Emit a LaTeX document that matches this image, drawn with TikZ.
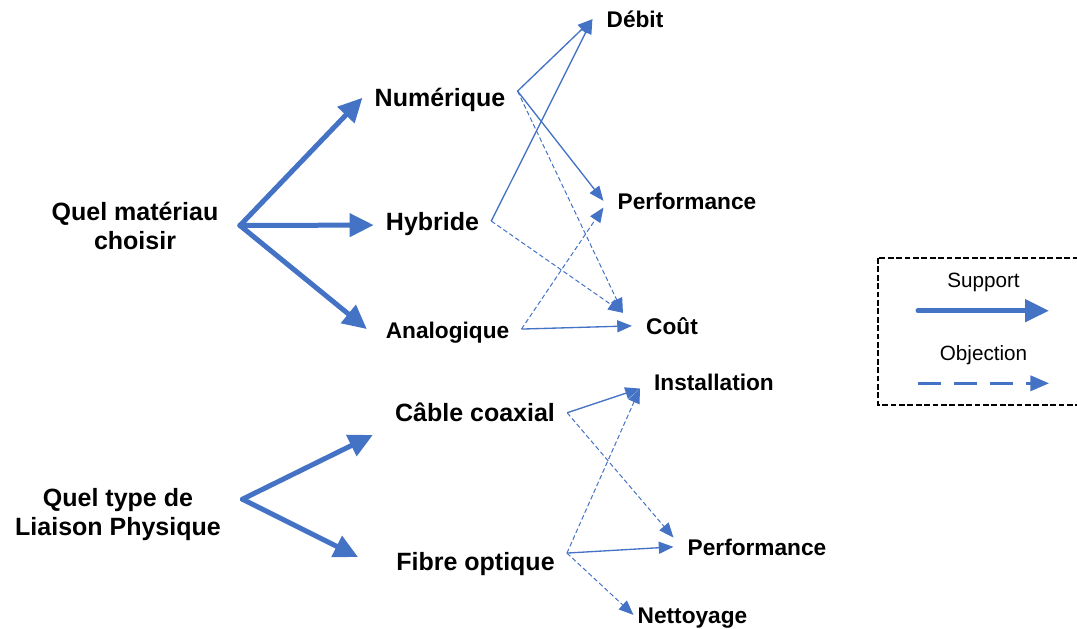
\documentclass[tikz,border=0pt]{standalone}
\usepackage{fontspec}
\setmainfont{Liberation Sans}
\usetikzlibrary{arrows.meta}
\definecolor{ArgBlue}{RGB}{68,114,196}
\tikzset{
  question/.style={font=\bfseries\fontsize{18.75}{21.75}\selectfont, align=center,
    inner xsep=16pt, inner ysep=0pt},
  choix/.style={font=\bfseries\fontsize{18.75}{22}\selectfont, anchor=base,
    inner xsep=9pt, inner ysep=0pt, text height=13.4pt, text depth=0pt},
  critere/.style={font=\bfseries\fontsize{17}{20}\selectfont, anchor=base,
    inner xsep=10.5pt, inner ysep=0pt, text height=12.2pt, text depth=0pt},
  legtxt/.style={font=\fontsize{15.5}{18}\selectfont, anchor=base, inner sep=0pt},
  legbox/.style={draw=black, line width=2.2pt, dash pattern=on 4.3pt off 2pt},
  support/.style={-{Triangle[length=18pt,width=17pt]}, line width=3.75pt, ArgBlue, line cap=round},
  pour/.style={-{Triangle[length=11pt,width=9pt]}, line width=1pt, ArgBlue},
  contre/.style={-{Triangle[length=11pt,width=9pt]}, line width=0.75pt, ArgBlue, dash pattern=on 3.5pt off 2pt},
  legsupport/.style={-{Triangle[length=18pt,width=16.5pt]}, line width=3.75pt, ArgBlue, line cap=round},
  legcontre/.style={-{Triangle[length=14pt,width=11.5pt]}, line width=2pt, ArgBlue, dash pattern=on 17pt off 10pt},
}

\begin{document}
\begin{tikzpicture}[x=0.75pt, y=-0.75pt]
  \clip (0,0) rectangle (1077,628);
  % first question: the material
  \node[question] (mat) at (135,225.5) {Quel matériau\\choisir};
  \node[choix] (num) at (440,106.7) {Numérique};
  \node[choix] (hyb) at (432.5,230) {Hybride};
  \node[choix, font=\bfseries\fontsize{17}{20}\selectfont] (ana) at (447.5,338) {Analogique};
  \node[critere] (deb) at (635,27.3) {Débit};
  \node[critere] (perf) at (687,209) {Performance};
  \node[critere] (cout) at (672,334) {Coût};
  \draw[support] (mat.east) -- (num.west);
  \draw[support] (mat.east) -- ([yshift=-3pt]hyb.west);
  \draw[support] (mat.east) -- ([xshift=-5pt]ana.west);
  \draw[pour] ([yshift=5pt]num.east) -- (deb.west);
  \draw[pour] ([yshift=5pt]num.east) -- (perf.west);
  \draw[contre] ([yshift=5pt]num.east) -- ([shift={(-9,-13)}]cout.west);
  \draw[pour] (hyb.east) -- (deb.west);
  \draw[contre] (hyb.east) -- ([shift={(-9,-13)}]cout.west);
  \draw[contre] (ana.east) -- ([yshift=-5pt]perf.west);
  \draw[pour] (ana.east) -- (cout.west);
  % second question: the physical link
  \node[question] (liaison) at (118,514.5) {Quel type de\\Liaison Physique};
  \node[choix] (cab) at (475,421.7) {Câble coaxial};
  \node[choix] (fib) at (475.5,570) {Fibre optique};
  \node[critere] (inst) at (714,390) {Installation};
  \node[critere] (perfb) at (757,555) {Performance};
  \node[critere] (nett) at (692.5,623) {Nettoyage};
  \draw[support] (liaison.7.5) -- ([shift={(-10,13)}]cab.south west);
  \draw[support] (liaison.7.5) -- ([shift={(-26,-4)}]fib.west);
  \draw[pour] (cab.east) -- ([yshift=-5pt]inst.west);
  \draw[contre] (cab.east) -- ([yshift=7pt]perfb.west);
  \draw[contre] ([yshift=6pt]fib.east) -- ([yshift=-5pt]inst.west);
  \draw[pour] ([yshift=6pt]fib.east) -- (perfb.west);
  \draw[contre] ([yshift=6pt]fib.east) -- ([xshift=7.5pt]nett.west);
  % the legend
  \draw[legbox] (878,258) rectangle (1100,405);
  \node[legtxt] (leg-sup) at (983.5,287.3) {Support};
  \node[legtxt] (leg-obj) at (983.5,360) {Objection};
  \coordinate (sup-a) at (918,310.7);
  \coordinate (sup-b) at (1049,310.7);
  \coordinate (obj-a) at (918,383.3);
  \coordinate (obj-b) at (1049,383.3);
  \draw[legsupport] (sup-a) -- (sup-b);
  \draw[legcontre] (obj-a) -- (obj-b);
\end{tikzpicture}
\end{document}
